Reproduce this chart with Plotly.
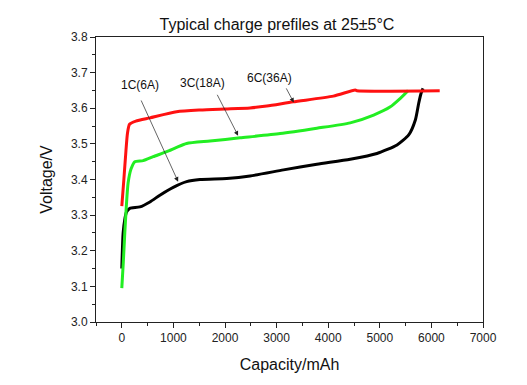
import plotly.graph_objects as go

# 1C (6A) - black
cap_1c = [0, 26, 60, 91, 155, 350, 544, 738, 997, 1256, 1515, 2033, 2485, 3133, 3780, 4427, 4945, 5334, 5560, 5689, 5754, 5800, 5838]
volt_1c = [3.15, 3.25, 3.29, 3.309, 3.319, 3.323, 3.337, 3.356, 3.378, 3.394, 3.400, 3.403, 3.410, 3.427, 3.443, 3.457, 3.473, 3.497, 3.525, 3.567, 3.614, 3.642, 3.656]

# 3C (18A) - green
cap_3c = [0, 30, 58, 90, 122, 180, 252, 414, 608, 868, 1062, 1256, 1709, 2291, 3068, 3780, 4427, 4880, 5204, 5398, 5528, 5550]
volt_3c = [3.095, 3.17, 3.25, 3.33, 3.39, 3.43, 3.45, 3.453, 3.464, 3.478, 3.49, 3.501, 3.508, 3.517, 3.529, 3.544, 3.559, 3.581, 3.604, 3.628, 3.646, 3.65]

# 6C (36A) - red
cap_6c = [0, 40, 80, 110, 150, 272, 544, 1062, 1515, 2000, 2485, 2810, 3320, 4100, 4524, 4557, 6161]
volt_6c = [3.325, 3.40, 3.48, 3.53, 3.555, 3.564, 3.573, 3.59, 3.595, 3.598, 3.601, 3.606, 3.618, 3.634, 3.651, 3.649, 3.649]

labels = ["1C(6A)", "3C(18A)", "6C(36A)"]

FONT = "Liberation Sans, Arial, sans-serif"

fig = go.Figure()
fig.add_trace(go.Scatter(x=cap_1c, y=volt_1c, mode="lines", line=dict(color="black", width=3, shape="spline", smoothing=0.6), name=labels[0]))
fig.add_trace(go.Scatter(x=cap_3c, y=volt_3c, mode="lines", line=dict(color="#22ee22", width=3, shape="spline", smoothing=0.6), name=labels[1]))
fig.add_trace(go.Scatter(x=cap_6c, y=volt_6c, mode="lines", line=dict(color="#ff1111", width=3, shape="spline", smoothing=0.6), name=labels[2]))

# annotation labels and arrows
label_pos = [(362, 3.665), (1556, 3.672), (2855, 3.684)]
arrows = [((362, 3.626), (1091, 3.394)), ((1835, 3.642), (2254, 3.523)), ((3172, 3.660), (3333, 3.616))]
for lab, (lx, ly) in zip(labels, label_pos):
    fig.add_annotation(x=lx, y=ly, text=lab, showarrow=False, font=dict(family=FONT, size=12, color="#111"))
for (tail, tip) in arrows:
    fig.add_annotation(x=tip[0], y=tip[1], ax=tail[0], ay=tail[1], axref="x", ayref="y",
                       text="", showarrow=True, arrowhead=2, arrowsize=1.3, arrowwidth=0.7, arrowcolor="#222")

fig.update_layout(
    width=527, height=385,
    margin=dict(l=88, r=52, t=29, b=71),
    paper_bgcolor="white", plot_bgcolor="white",
    showlegend=False,
    font=dict(family=FONT, color="#111"),
    title=dict(text="Typical charge prefiles at 25±5°C", x=269 / 527, xref="container", xanchor="center",
               y=1 - 16 / 385, yref="container", yanchor="middle", font=dict(size=16, family=FONT, color="#111")),
)
fig.update_xaxes(range=[-500, 7000], tick0=0, dtick=1000, ticks="outside", ticklen=5, tickwidth=1,
                 tickcolor="#222", showline=True, linecolor="#222", linewidth=1, mirror=True,
                 showgrid=False, zeroline=False, tickfont=dict(size=12, family=FONT, color="#222"),
                 minor=dict(dtick=500, tick0=0, ticks="outside", ticklen=3, tickcolor="#222"),
                 title=dict(text="Capacity/mAh", font=dict(size=16, family=FONT, color="#111"), standoff=14))
fig.update_yaxes(range=[3.0, 3.8], tick0=3.0, dtick=0.1, tickformat=".1f", ticks="outside", ticklen=5, tickwidth=1,
                 tickcolor="#222", showline=True, linecolor="#222", linewidth=1, mirror=True,
                 showgrid=False, zeroline=False, tickfont=dict(size=12, family=FONT, color="#222"),
                 minor=dict(dtick=0.05, tick0=3.0, ticks="outside", ticklen=3, tickcolor="#222"),
                 title=dict(text="Voltage/V", font=dict(size=16, family=FONT, color="#111"), standoff=14))

fig.write_html("out.html")
